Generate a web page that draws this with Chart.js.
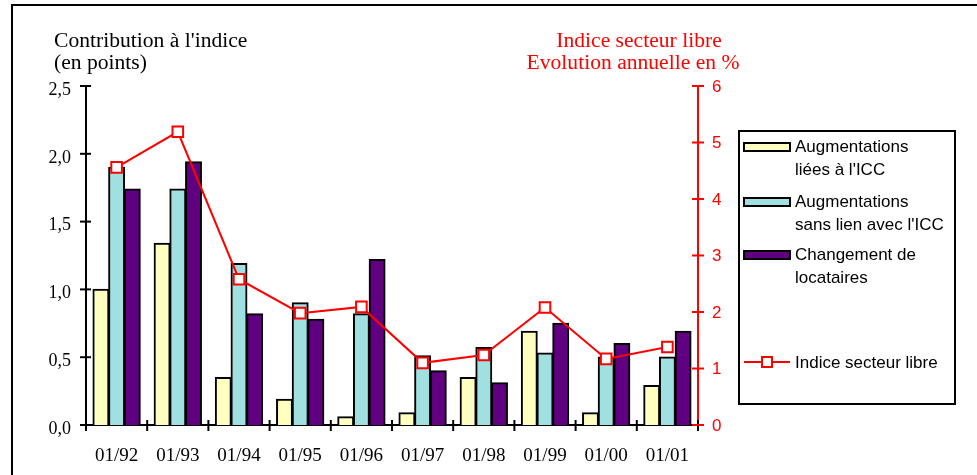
<!DOCTYPE html>
<html lang="fr">
<head>
<meta charset="utf-8">
<title>Contribution à l'indice</title>
<script src="https://cdn.jsdelivr.net/npm/chart.js@4"></script>
<style>
  html, body { margin: 0; padding: 0; background: #fff; }
  #wrap { position: relative; width: 977px; height: 475px; }
</style>
</head>
<body>
<div id="wrap"><canvas id="c" width="977" height="475"></canvas></div>
<script>
// Années (janvier de chaque année)
const categories = ['01/92', '01/93', '01/94', '01/95', '01/96', '01/97', '01/98', '01/99', '01/00', '01/01'];

// Contributions à l'indice, en points
const augmentationsIcc = [1.00, 1.34, 0.35, 0.19, 0.06, 0.09, 0.35, 0.69, 0.09, 0.29];
const augmentationsHorsIcc = [1.90, 1.74, 1.19, 0.90, 0.82, 0.51, 0.57, 0.53, 0.50, 0.50];
const changementLocataires = [1.74, 1.94, 0.82, 0.78, 1.22, 0.40, 0.31, 0.75, 0.60, 0.69];

// Indice secteur libre, évolution annuelle en %
const indiceSecteurLibre = [4.56, 5.19, 2.58, 1.98, 2.09, 1.10, 1.24, 2.08, 1.17, 1.38];

// Libellés des graduations
const leftTickLabels = ['0,0', '0,5', '1,0', '1,5', '2,0', '2,5'];
const rightTickLabels = ['0', '1', '2', '3', '4', '5', '6'];

// Libellés de la légende (sur deux lignes)
const legendLines = [
  ['Augmentations', "liées à l'ICC"],
  ['Augmentations', "sans lien avec l'ICC"],
  ['Changement de', 'locataires'],
  ['Indice secteur libre']
];

const SERIF = '"Liberation Serif", "Times New Roman", serif';
const SANS = '"Liberation Sans", Arial, sans-serif';
const RED = '#ff0000';

// Cadre, titres d'axes, petites graduations croisées et légende
const decorPlugin = {
  id: 'decor',
  afterDraw(chart) {
    const ctx = chart.ctx;
    const { x, y, y2 } = chart.scales;
    const area = chart.chartArea;
    ctx.save();

    // cadre
    ctx.strokeStyle = '#000';
    ctx.lineWidth = 2;
    ctx.beginPath();
    ctx.moveTo(12, 475);
    ctx.lineTo(12, 5);
    ctx.lineTo(977, 5);
    ctx.stroke();

    // titres
    ctx.fillStyle = '#000';
    ctx.font = '21.6px ' + SERIF;
    ctx.textAlign = 'left';
    ctx.textBaseline = 'alphabetic';
    ctx.fillText("Contribution à l'indice", 54, 47);
    ctx.fillText('(en points)', 54, 69);
    ctx.fillStyle = RED;
    ctx.textAlign = 'center';
    ctx.fillText('Indice secteur libre', 639, 47);
    ctx.fillText('Evolution annuelle en %', 633, 69);

    // graduations axe gauche
    ctx.lineWidth = 2;
    ctx.strokeStyle = '#000';
    y.ticks.forEach(t => {
      const py = y.getPixelForValue(t.value);
      ctx.beginPath();
      ctx.moveTo(area.left - 6, py);
      ctx.lineTo(area.left + 5, py);
      ctx.stroke();
    });
    // graduations axe des abscisses (limites de catégories)
    const half = (x.getPixelForValue(1) - x.getPixelForValue(0)) / 2;
    for (let i = 0; i <= categories.length; i++) {
      const px = x.getPixelForValue(i) - half;
      ctx.beginPath();
      ctx.moveTo(px, area.bottom - 5);
      ctx.lineTo(px, area.bottom + 6);
      ctx.stroke();
    }
    // graduations axe droit
    ctx.strokeStyle = RED;
    y2.ticks.forEach(t => {
      const py = y2.getPixelForValue(t.value);
      ctx.beginPath();
      ctx.moveTo(area.right - 6, py);
      ctx.lineTo(area.right + 6, py);
      ctx.stroke();
    });

    // légende
    ctx.strokeStyle = '#000';
    ctx.lineWidth = 2;
    ctx.strokeRect(739, 131, 216, 273);
    ctx.font = '17px ' + SANS;
    ctx.textAlign = 'left';
    ctx.fillStyle = '#000';
    const ds = chart.data.datasets;
    const baselines = [152, 207, 260];
    for (let i = 0; i < 3; i++) {
      const b = baselines[i];
      ctx.fillStyle = ds[i].backgroundColor;
      ctx.fillRect(744, b - 9, 46, 8);
      ctx.lineWidth = 2;
      ctx.strokeStyle = '#000';
      ctx.strokeRect(744, b - 9, 46, 8);
      ctx.fillStyle = '#000';
      ctx.fillText(legendLines[i][0], 795, b);
      ctx.fillText(legendLines[i][1], 795, b + 23);
    }
    // entrée de la courbe
    const ly = 362;
    ctx.strokeStyle = RED;
    ctx.lineWidth = 2;
    ctx.beginPath();
    ctx.moveTo(744, ly);
    ctx.lineTo(790, ly);
    ctx.stroke();
    ctx.fillStyle = '#fff';
    ctx.fillRect(762, ly - 5, 10, 10);
    ctx.strokeRect(762, ly - 5, 10, 10);
    ctx.fillStyle = '#000';
    ctx.fillText(legendLines[3][0], 795, 368);

    ctx.restore();
  }
};

const barBase = {
  type: 'bar',
  yAxisID: 'y',
  borderColor: '#000',
  borderWidth: 2,
  borderSkipped: 'bottom',
  inflateAmount: 0.6,
  categoryPercentage: 0.77,
  barPercentage: 1.0,
  order: 1
};

new Chart(document.getElementById('c'), {
  type: 'bar',
  data: {
    labels: categories,
    datasets: [
      Object.assign({}, barBase, { label: "Augmentations liées à l'ICC", data: augmentationsIcc, backgroundColor: '#ffffc0' }),
      Object.assign({}, barBase, { label: "Augmentations sans lien avec l'ICC", data: augmentationsHorsIcc, backgroundColor: '#a0e0e0' }),
      Object.assign({}, barBase, { label: 'Changement de locataires', data: changementLocataires, backgroundColor: '#600080' }),
      {
        type: 'line',
        label: 'Indice secteur libre',
        data: indiceSecteurLibre,
        yAxisID: 'y2',
        borderColor: RED,
        borderWidth: 2,
        backgroundColor: '#fff',
        pointStyle: 'rect',
        pointRadius: 7.5,
        pointBorderWidth: 2,
        pointBorderColor: RED,
        pointBackgroundColor: '#fff',
        tension: 0,
        fill: false,
        order: 0
      }
    ]
  },
  plugins: [decorPlugin],
  options: {
    responsive: false,
    animation: false,
    devicePixelRatio: 1,
    layout: { padding: { top: 86, left: 0, right: 0, bottom: 0 } },
    plugins: {
      legend: { display: false },
      tooltip: { enabled: false },
      title: { display: false }
    },
    scales: {
      x: {
        grid: { display: false, drawTicks: false },
        border: { display: true, color: '#000', width: 2 },
        ticks: {
          color: '#000',
          font: { family: SERIF, size: 19 },
          padding: 20,
          maxRotation: 0,
          autoSkip: false
        },
        afterFit(s) { s.height = 50; }
      },
      y: {
        position: 'left',
        min: 0,
        max: 2.5,
        grid: { display: false, drawTicks: false },
        border: { display: true, color: '#000', width: 2 },
        ticks: {
          stepSize: 0.5,
          color: '#000',
          font: { family: SERIF, size: 18 },
          padding: 15,
          labelOffset: 4,
          callback: (v, i) => leftTickLabels[i]
        },
        afterFit(s) { s.width = 86; }
      },
      y2: {
        position: 'right',
        min: 0,
        max: 6,
        grid: { display: false, drawTicks: false },
        border: { display: true, color: RED, width: 2 },
        ticks: {
          stepSize: 1,
          color: RED,
          font: { family: SANS, size: 17 },
          padding: 14,
          labelOffset: 1,
          callback: (v, i) => rightTickLabels[i]
        },
        afterFit(s) { s.width = 279; }
      }
    }
  }
});
</script>
</body>
</html>
